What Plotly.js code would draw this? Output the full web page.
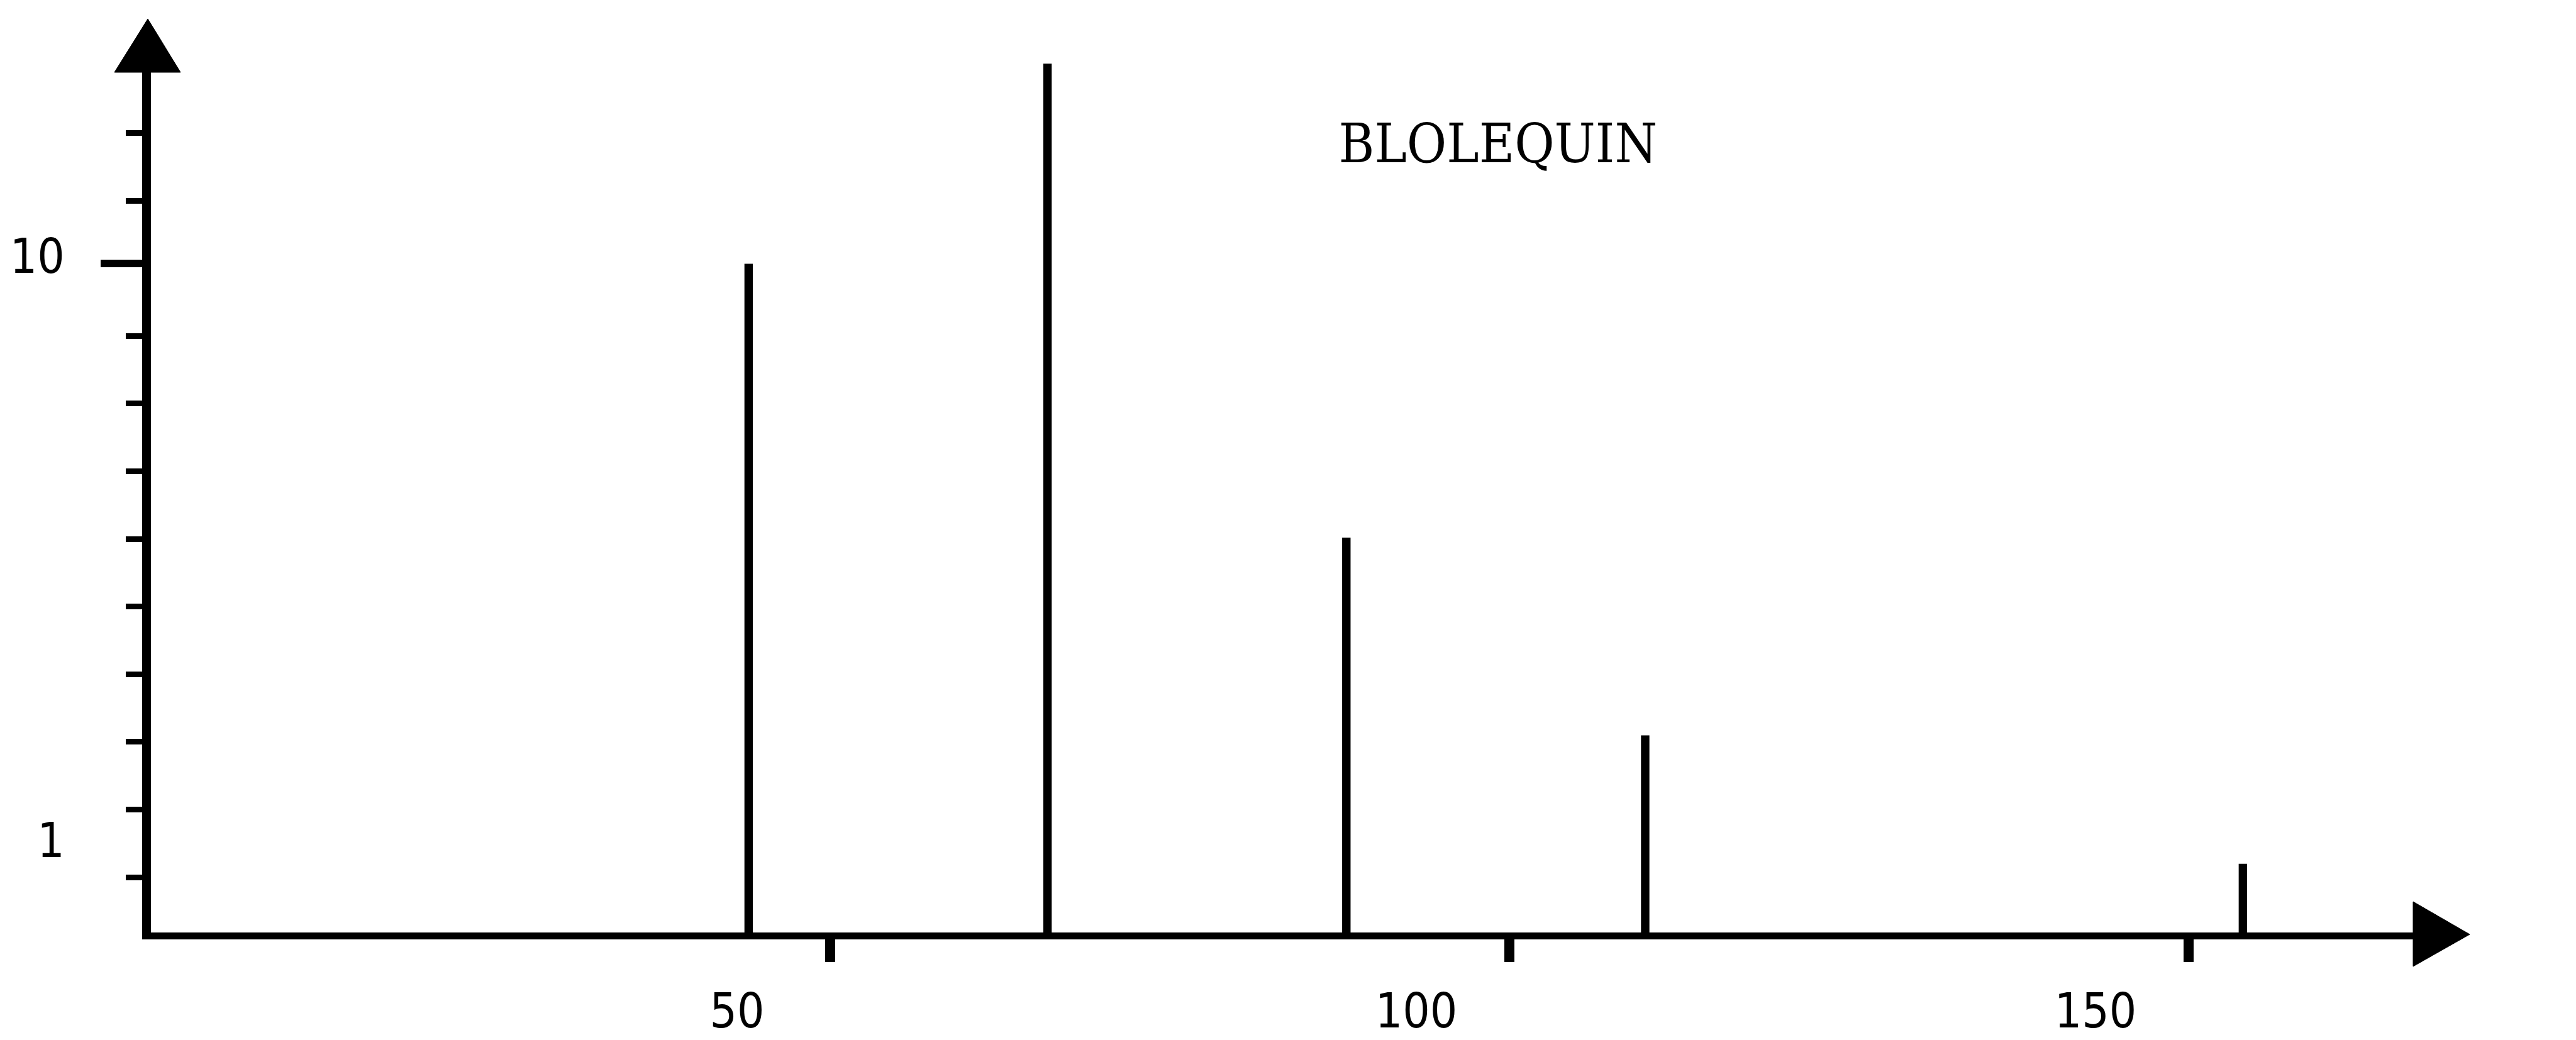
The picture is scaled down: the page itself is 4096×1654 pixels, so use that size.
<!DOCTYPE html>
<html><head><meta charset="utf-8">
<script src="https://cdn.plot.ly/plotly-3.0.1.min.js"></script>
<style>html,body{margin:0;padding:0;background:#fff;overflow:hidden}#chart{width:4096px;height:1654px}</style>
</head><body><div id="chart"></div>
<script>
// ---- data ----
const chartTitle = 'BLOLEQUIN';
const xValues = [44, 66, 88, 110, 154];
const yValues = [10, 22, 3.4, 1.56, 0.94];
const xTickVals = [50, 100, 150];
const xTickText = ['50', '100', '150'];
const yTickVals = [1, 10];
const yTickText = ['1', '10'];
const yLongTick = [10];
const yScaleTicks = [0, 1, 2, 3, 4, 5, 6, 7, 8, 10, 11];

const black = '#000000';
const labelFont = {family: 'DejaVu Sans Condensed, DejaVu Sans, sans-serif', size: 76, color: black};
const yLogRange = [-0.1443, 1.3868];

const traces = [
  {type: 'bar', x: xValues, y: yValues, width: 0.62,
   marker: {color: black, line: {width: 0}}, hoverinfo: 'skip', showlegend: false},
  {type: 'scatter', x: [], y: [], yaxis: 'y2', showlegend: false, hoverinfo: 'skip'},
  {type: 'scatter', x: [], y: [], yaxis: 'y3', showlegend: false, hoverinfo: 'skip'}
];

const layout = {
  width: 4096, height: 1654,
  margin: {l: 240, r: 259, t: 60, b: 171, pad: 0},
  paper_bgcolor: '#ffffff', plot_bgcolor: '#ffffff',
  showlegend: false,
  title: {text: chartTitle,
    font: {family: 'DejaVu Serif Condensed, DejaVu Serif, serif', size: 86, color: black},
    x: 0.5815, xref: 'container', xanchor: 'center',
    y: 0.862, yref: 'container', yanchor: 'middle'},
  xaxis: {range: [0, 166.53], tickmode: 'array', tickvals: xTickVals, ticktext: xTickText,
    ticks: 'outside', ticklen: 36, tickwidth: 16, tickcolor: black,
    showline: true, linewidth: 11, linecolor: black,
    showgrid: false, zeroline: false, tickfont: labelFont,
    ticklabelshift: -148, ticklabelstandoff: 13, fixedrange: true},
  yaxis: {type: 'log', range: yLogRange, tickmode: 'array', tickvals: yTickVals, ticktext: yTickText,
    ticks: '', showline: true, linewidth: 14, linecolor: black,
    showgrid: false, zeroline: false, tickfont: labelFont,
    ticklabelshift: -12, ticklabelstandoff: 108, fixedrange: true},
  yaxis2: {overlaying: 'y', side: 'left', range: [-0.8178, 12.407], tickmode: 'array', tickvals: yScaleTicks,
    ticks: 'outside', ticklen: 39, tickwidth: 9, tickcolor: black,
    showticklabels: false, showline: false, showgrid: false, zeroline: false, fixedrange: true},
  yaxis3: {overlaying: 'y', side: 'left', type: 'log', range: yLogRange, tickmode: 'array', tickvals: yLongTick,
    ticks: 'outside', ticklen: 79, tickwidth: 12, tickcolor: black,
    showticklabels: false, showline: false, showgrid: false, zeroline: false, fixedrange: true},
  shapes: [
    {type: 'path', layer: 'above', xref: 'paper', yref: 'paper', xsizemode: 'pixel', ysizemode: 'pixel',
     xanchor: 0, yanchor: 1, path: 'M -5 30 L -58 -55 L 47 -55 Z',
     fillcolor: black, line: {color: black, width: 1}},
    {type: 'path', layer: 'above', xref: 'paper', yref: 'paper', xsizemode: 'pixel', ysizemode: 'pixel',
     xanchor: 1, yanchor: 0, path: 'M 0 49 L 90 -3 L 0 -54 Z',
     fillcolor: black, line: {color: black, width: 1}}
  ]
};

Plotly.newPlot('chart', traces, layout, {displayModeBar: false, staticPlot: true});
</script>
</body></html>
